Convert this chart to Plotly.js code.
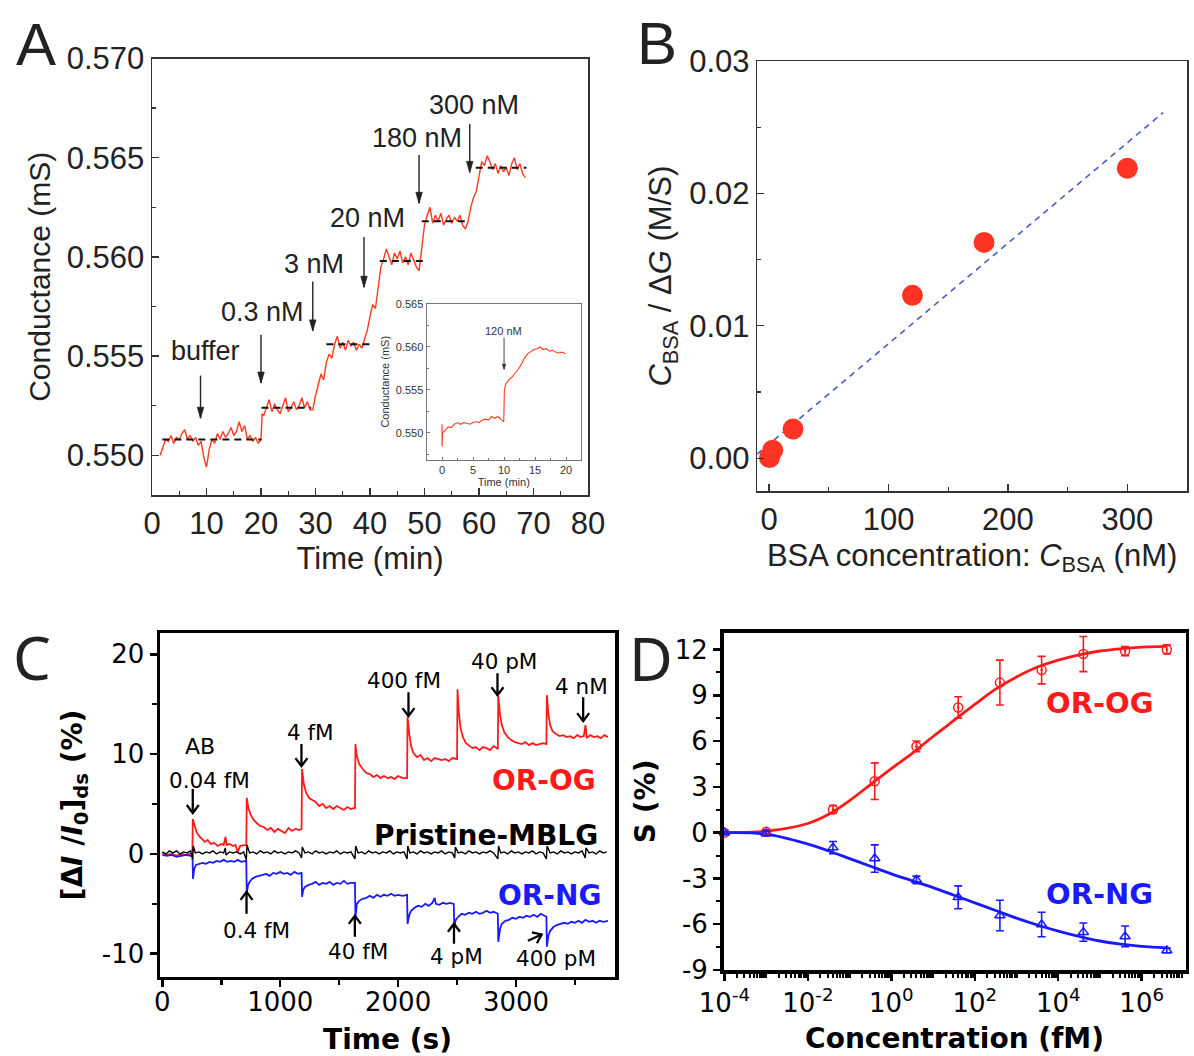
<!DOCTYPE html>
<html>
<head>
<meta charset="utf-8">
<script src="https://cdn.plot.ly/plotly-3.0.1.min.js"></script>
<style>
  html, body { margin: 0; padding: 0; background: #fff; }
  #fig { width: 1194px; height: 1056px; }
</style>
</head>
<body>
<div id="fig"></div>
<script>
// ---------- Panel A: conductance trace during stepwise BSA additions ----------
const timeA = [1.5,2,2.5,3,3.5,4,4.5,5,5.5,6,6.5,7,7.5,8,8.5,9,9.5,10,10.5,11,11.5,12,12.5,13,13.5,14,14.5,15,15.5,16,16.5,17,17.5,18,18.5,19,19.5,20,
  20.2,20.5,21,21.5,22,22.5,23,23.5,24,24.5,25,25.5,26,26.5,27,27.5,28,28.5,29,29.5,30,30.5,31,31.5,32,32.5,33,33.5,34,34.5,35,35.5,36,36.5,37,37.5,38,38.5,39,39.5,
  40,40.5,41,41.5,42,42.5,43,43.5,44,44.5,45,45.5,46,46.5,47,47.5,48,48.5,49,49.5,50,50.5,51,51.5,52,52.5,53,53.5,54,54.5,55,55.5,56,56.5,57,57.5,58,58.5,
  59,59.5,60,60.5,61,61.5,62,62.5,63,63.5,64,64.5,65,65.5,66,66.5,67,67.5,68,68.5];
const condA = [0.5500,0.5504,0.5508,0.5507,0.5510,0.5506,0.5509,0.5508,0.5511,0.5513,0.5508,0.5510,0.5507,0.5509,0.5505,0.5507,0.5499,0.5494,0.5503,0.5508,0.5506,0.5511,0.5508,0.5512,0.5509,0.5511,0.5514,0.5510,0.5512,0.5517,0.5512,0.5515,0.5508,0.5510,0.5507,0.5509,0.5506,0.5508,
  0.5521,0.5520,0.5524,0.5528,0.5522,0.5526,0.5523,0.5521,0.5525,0.5529,0.5522,0.5524,0.5527,0.5523,0.5525,0.5529,0.5524,0.5527,0.5523,0.5523,0.5530,0.5536,0.5541,0.5538,0.5547,0.5551,0.5549,0.5556,0.5560,0.5554,0.5557,0.5553,0.5558,0.5555,0.5557,0.5553,0.5556,0.5554,0.5558,0.5563,
  0.5570,0.5576,0.5574,0.5586,0.5595,0.5599,0.5604,0.5600,0.5596,0.5602,0.5599,0.5603,0.5597,0.5600,0.5596,0.5602,0.5598,0.5595,0.5593,0.5605,0.5616,0.5621,0.5625,0.5617,0.5621,0.5618,0.5622,0.5616,0.5619,0.5621,0.5617,0.5620,0.5618,0.5621,0.5616,0.5614,0.5618,0.5625,
  0.5630,0.5633,0.5641,0.5648,0.5646,0.5651,0.5648,0.5644,0.5647,0.5642,0.5646,0.5643,0.5645,0.5641,0.5647,0.5650,0.5644,0.5647,0.5642,0.5640];

// plateau levels (dashed guides)
const levelA = [0.5508, 0.5524, 0.5556, 0.5598, 0.5618, 0.5645];
const levelStartA = [1.9, 20.1, 32.0, 41.8, 49.5, 59.4];
const levelEndA = [20.1, 29.2, 40.1, 49.9, 58.0, 68.7];

// additions
const doseLabelsA = ['buffer', '0.3 nM', '3 nM', '20 nM', '180 nM', '300 nM'];
const doseTimeA = [8.9, 20.0, 29.5, 38.9, 49.0, 58.3];

// ---------- Inset: single 120 nM addition ----------
const timeInset = [0,0.02,0.08,0.5,1,1.5,2,2.5,3,3.5,4,4.5,5,5.5,6,6.5,7,7.5,8,8.5,9,9.5,9.95,10.05,10.3,10.8,11.3,11.8,12.3,12.8,13.3,13.8,14.3,14.8,15.3,15.8,16.3,16.8,17.3,17.8,18.3,18.8,19.3,19.9];
const condInset = [0.5510,0.5484,0.5500,0.5503,0.5507,0.5506,0.5510,0.5512,0.5510,0.5512,0.5511,0.5510,0.5512,0.5513,0.5512,0.5515,0.5516,0.5515,0.5519,0.5517,0.5519,0.5516,0.5513,0.5550,0.5557,0.5562,0.5565,0.5570,0.5574,0.5580,0.5587,0.5592,0.5595,0.5597,0.5598,0.5600,0.5597,0.5598,0.5595,0.5596,0.5594,0.5593,0.5594,0.5592];
const insetDoseLabel = '120 nM';

// ---------- Panel B: linearised adsorption ----------
const bsaConc = [0.3, 3, 20, 120, 180, 300];
const bsaRatio = [0.00005, 0.0006, 0.0022, 0.0123, 0.0163, 0.0219];
const bsaFitX = [-10, 330];
const bsaFitY = [0.0003, 0.0261];

// ---------- Panel C: real-time responses ----------
const timeOG = [0,40,80,120,160,200,240,255,258,270,290,310,335,360,385,410,440,470,500,520,536,545,570,600,620,640,660,690,712,716,730,750,775,800,830,860,890,920,950,980,1010,1040,1070,1100,1130,1160,1181,1185,1200,1220,1245,1270,1300,1330,1360,1390,1420,1450,1480,1510,1540,1570,1600,1634,1638,1650,1670,1700,1730,1760,1790,1820,1850,1880,1910,1940,1970,2000,2040,2076,2080,2095,2110,2130,2160,2190,2220,2250,2280,2310,2340,2370,2400,2430,2460,2500,2504,2515,2530,2550,2575,2600,2630,2660,2690,2720,2750,2780,2810,2846,2850,2865,2880,2900,2930,2960,2990,3020,3050,3080,3110,3140,3170,3200,3230,3258,3262,3275,3290,3310,3340,3370,3400,3430,3460,3490,3520,3550,3575,3590,3600,3630,3660,3690,3720,3750,3780];
const respOG = [0.1,-0.1,0.0,-0.2,0.0,-0.1,0.0,0.0,3.5,2.9,2.2,1.8,1.5,1.2,1.4,1.0,1.1,0.8,1.0,0.9,1.7,0.9,1.0,0.8,0.9,0.2,0.8,0.9,0.9,5.6,4.6,3.9,3.4,3.1,2.8,2.7,2.4,2.6,2.2,2.5,2.3,2.1,2.6,2.3,2.5,2.4,2.5,8.5,7.0,6.1,5.6,5.4,5.2,4.8,5.0,4.6,4.8,4.5,4.8,4.6,4.4,4.7,4.5,4.6,11.0,9.8,9.0,8.5,8.1,8.0,7.7,7.9,7.6,7.8,7.6,7.7,7.5,7.8,7.6,7.6,13.7,12.0,10.8,10.1,9.7,9.9,9.4,9.6,9.3,9.6,9.5,9.4,9.5,9.3,9.6,9.5,16.5,14.2,12.6,11.7,11.1,10.9,10.6,10.7,10.4,10.7,10.6,10.4,10.8,10.5,15.8,13.9,12.9,12.2,11.7,11.4,11.2,11.1,11.0,11.2,10.9,11.1,10.9,11.0,11.1,11.0,15.9,14.0,12.9,12.3,12.0,11.8,11.9,11.7,11.8,11.6,11.9,11.7,11.8,12.9,11.6,11.9,11.7,11.8,11.6,11.9,11.7];

const timeNG = [0,40,80,120,160,200,240,256,260,270,285,310,340,370,400,430,460,490,520,550,580,610,640,670,712,716,725,740,760,790,820,850,880,910,940,970,1000,1030,1060,1090,1120,1150,1181,1185,1195,1210,1240,1270,1300,1330,1360,1390,1420,1450,1480,1510,1540,1570,1600,1634,1638,1650,1670,1700,1730,1760,1790,1820,1850,1880,1910,1940,1970,2000,2040,2076,2080,2095,2110,2140,2170,2200,2230,2260,2290,2310,2320,2350,2380,2410,2440,2472,2476,2490,2510,2540,2570,2600,2630,2660,2690,2720,2750,2780,2810,2846,2850,2865,2880,2910,2940,2970,3000,3030,3060,3090,3120,3150,3180,3210,3240,3258,3262,3275,3290,3320,3350,3380,3410,3440,3470,3500,3530,3560,3590,3620,3650,3680,3710,3740,3780];
const respNG = [-0.1,-0.2,-0.1,-0.3,-0.2,-0.1,-0.2,-0.2,-2.5,-1.5,-1.1,-1.0,-0.9,-1.0,-0.8,-0.9,-0.7,-0.8,-0.6,-0.8,-0.7,-0.8,-0.6,-0.8,-0.7,-4.0,-3.2,-2.8,-2.5,-2.3,-2.2,-2.1,-2.0,-2.2,-1.9,-2.0,-1.8,-2.0,-1.9,-2.1,-1.8,-2.0,-1.9,-4.3,-3.6,-3.3,-3.1,-3.0,-2.8,-3.1,-2.9,-3.0,-2.8,-3.1,-2.9,-3.0,-2.7,-3.0,-2.9,-2.9,-6.4,-5.0,-4.7,-4.5,-4.4,-4.2,-4.4,-4.1,-4.3,-4.1,-4.2,-4.0,-4.2,-4.1,-4.2,-4.1,-7.0,-6.1,-5.7,-5.4,-5.2,-5.3,-5.0,-5.2,-4.9,-4.4,-5.0,-5.1,-4.9,-5.0,-4.9,-5.0,-7.2,-6.6,-6.3,-6.0,-6.1,-5.9,-6.0,-5.8,-6.0,-5.9,-5.7,-5.9,-5.8,-6.0,-8.8,-7.5,-7.0,-6.7,-6.6,-6.4,-6.5,-6.3,-6.4,-6.2,-6.3,-6.1,-6.3,-6.0,-6.2,-6.3,-9.3,-8.2,-7.7,-7.3,-7.1,-7.0,-6.9,-7.0,-6.8,-6.9,-6.7,-6.9,-6.6,-6.8,-6.7,-6.9,-6.7,-6.8,-6.7];

const timePristine = [0,30,60,90,120,150,180,210,240,256,262,280,310,340,370,400,430,460,490,520,534,540,570,600,630,660,690,712,718,740,770,800,830,860,890,920,950,980,1010,1040,1070,1100,1130,1160,1181,1187,1210,1240,1270,1300,1330,1360,1390,1420,1450,1480,1510,1540,1570,1600,1634,1640,1660,1690,1720,1750,1780,1810,1840,1870,1900,1930,1960,1990,2020,2050,2076,2082,2100,2130,2160,2190,2220,2250,2280,2310,2340,2370,2400,2430,2460,2480,2486,2510,2540,2570,2600,2630,2660,2690,2720,2750,2780,2810,2846,2852,2870,2900,2930,2960,2990,3020,3050,3080,3110,3140,3170,3200,3230,3258,3264,3290,3320,3350,3380,3410,3440,3470,3500,3530,3560,3588,3594,3620,3650,3680,3710,3740,3770];
const respPristine = [0.2,0.0,0.3,0.1,0.3,0.0,0.2,0.1,0.3,-0.5,0.8,0.1,0.2,0.0,0.2,0.1,0.3,0.0,0.2,0.1,0.6,-0.1,0.2,0.1,0.2,0.0,0.2,-0.6,0.9,0.1,0.2,0.0,0.3,0.1,0.2,0.0,0.3,0.1,0.2,0.0,0.2,0.1,0.3,0.1,-0.4,0.7,0.1,0.2,0.0,0.3,0.1,0.2,0.0,0.2,0.1,0.3,0.0,0.2,0.1,0.2,-0.5,0.8,0.1,0.2,0.0,0.3,0.1,0.2,0.0,0.2,0.1,0.3,0.0,0.2,0.1,0.2,-0.5,0.8,0.1,0.2,0.0,0.3,0.1,0.2,0.0,0.2,0.1,0.3,0.0,0.2,0.1,-0.4,0.7,0.1,0.2,0.0,0.3,0.1,0.2,0.0,0.2,0.1,0.3,0.1,-0.5,0.8,0.1,0.2,0.0,0.3,0.1,0.2,0.0,0.2,0.1,0.3,0.0,0.2,0.1,-0.5,0.8,0.1,0.2,0.0,0.3,0.1,0.2,0.0,0.2,0.1,0.3,-0.4,0.6,0.1,0.2,0.0,0.3,0.1,0.2];

const doseLabelsOG = ['0.04 fM', '4 fM', '400 fM', '40 pM', '4 nM'];
const doseLabelsNG = ['0.4 fM', '40 fM', '4 pM', '400 pM'];
const tickLabelsC = ['-10', '0', '10', '20'];
const tickValsC = [-10, 0, 10, 20];

// ---------- Panel D: dose-response ----------
const concD = [1e-4, 1e-3, 0.04, 0.4, 4, 40, 400, 4e3, 4e4, 4e5, 4e6];
const sOG = [0, 0.05, 1.52, 3.37, 5.65, 8.2, 9.83, 10.65, 11.7, 11.9, 12.0];
const sOGerr = [0.1, 0.15, 0.25, 1.2, 0.35, 0.7, 1.47, 0.9, 1.15, 0.3, 0.3];
const sNG = [0, -0.05, -0.98, -1.7, -3.1, -4.24, -5.43, -6.02, -6.52, -6.8, -7.72];
const sNGerr = [0.1, 0.15, 0.4, 0.9, 0.25, 0.75, 1.0, 0.8, 0.6, 0.68, 0.15];
const fitConcD = [1e-4, 1e-3, 1e-2, 0.0316, 0.1, 0.316, 1, 3.16, 10, 31.6, 100, 316, 1e3, 3162, 1e4, 31623, 1e5, 316228, 1e6, 4e6];
const fitOG = [0, 0.1, 0.6, 1.2, 2.1, 3.15, 4.2, 5.2, 6.3, 7.35, 8.4, 9.4, 10.2, 10.85, 11.3, 11.65, 11.9, 12.05, 12.15, 12.2];
const fitNG = [0, -0.1, -0.75, -1.2, -1.7, -2.2, -2.7, -3.15, -3.6, -4.1, -4.6, -5.1, -5.6, -6.05, -6.45, -6.8, -7.1, -7.3, -7.45, -7.55];
const tickValsDx = [1e-4, 1e-2, 1, 1e2, 1e4, 1e6];
const tickTextDx = ['10<sup>-4</sup>', '10<sup>-2</sup>', '10<sup>0</sup>', '10<sup>2</sup>', '10<sup>4</sup>', '10<sup>6</sup>'];
const tickValsDy = [-9, -6, -3, 0, 3, 6, 9, 12];
const tickTextDy = ['-9', '-6', '-3', '0', '3', '6', '9', '12'];

// ---------- styling ----------
const W = 1194, H = 1056;
const fontAB = 'Liberation Sans, Arial, sans-serif';
const fontCD = 'DejaVu Sans, Verdana, sans-serif';
const redA = '#ff3b1f';
const red = '#ff1a1a';
const blue = '#1a1aff';
const dx = (a, b) => [a / W, b / W];
const dy = (top, bottom) => [1 - bottom / H, 1 - top / H];

const traces = [];

// Panel A traces
traces.push({x: timeA, y: condA, xaxis: 'x', yaxis: 'y', mode: 'lines',
  line: {color: redA, width: 1.4}, hoverinfo: 'skip'});
levelA.forEach((lv, i) => traces.push({
  x: [levelStartA[i], levelEndA[i]], y: [lv, lv], xaxis: 'x', yaxis: 'y', mode: 'lines',
  line: {color: '#111', width: 2, dash: '7px,5px'}, hoverinfo: 'skip'}));

// Inset
traces.push({x: timeInset, y: condInset, xaxis: 'x2', yaxis: 'y2', mode: 'lines',
  line: {color: redA, width: 1.1}, hoverinfo: 'skip'});

// Panel B
traces.push({x: bsaFitX, y: bsaFitY, xaxis: 'x3', yaxis: 'y3', mode: 'lines',
  line: {color: '#4a5cc4', width: 1.6, dash: '6px,5px'}, hoverinfo: 'skip'});
traces.push({x: bsaConc, y: bsaRatio, xaxis: 'x3', yaxis: 'y3', mode: 'markers',
  marker: {color: '#ff3424', size: 21}, cliponaxis: false, hoverinfo: 'skip'});

// Panel C
traces.push({x: timeOG, y: respOG, xaxis: 'x4', yaxis: 'y4', mode: 'lines',
  line: {color: red, width: 1.8}, hoverinfo: 'skip'});
traces.push({x: timeNG, y: respNG, xaxis: 'x4', yaxis: 'y4', mode: 'lines',
  line: {color: blue, width: 1.8}, hoverinfo: 'skip'});
traces.push({x: timePristine, y: respPristine, xaxis: 'x4', yaxis: 'y4', mode: 'lines',
  line: {color: '#000', width: 1.4}, hoverinfo: 'skip'});

// Panel D
traces.push({x: fitConcD, y: fitOG, xaxis: 'x5', yaxis: 'y5', mode: 'lines',
  line: {color: red, width: 2.8, shape: 'spline'}, hoverinfo: 'skip'});
traces.push({x: fitConcD, y: fitNG, xaxis: 'x5', yaxis: 'y5', mode: 'lines',
  line: {color: blue, width: 2.8, shape: 'spline'}, hoverinfo: 'skip'});
traces.push({x: concD, y: sOG, xaxis: 'x5', yaxis: 'y5', mode: 'markers', cliponaxis: false,
  marker: {symbol: 'circle-open-dot', size: 9, color: red, line: {width: 1.5, color: red}},
  error_y: {type: 'data', array: sOGerr, color: red, thickness: 1.6, width: 4}, hoverinfo: 'skip'});
traces.push({x: concD, y: sNG, xaxis: 'x5', yaxis: 'y5', mode: 'markers', cliponaxis: false,
  marker: {symbol: 'triangle-up-open', size: 9, color: blue, line: {width: 1.5, color: blue}},
  error_y: {type: 'data', array: sNGerr, color: blue, thickness: 1.6, width: 4}, hoverinfo: 'skip'});

// minor tick positions on the log axis
const minorDx = [];
for (let e = -4; e <= 6; e++) for (let k = 1; k <= 9; k++) {
  const v = k * Math.pow(10, e);
  if (!(k === 1 && e % 2 === 0)) minorDx.push(v);
}

// ---------- axes ----------
function boxAxisAB(extra) {
  return Object.assign({
    showline: true, mirror: true, linecolor: '#333', linewidth: 1.5,
    ticks: 'inside', ticklen: 7, tickwidth: 1.3, tickcolor: '#333',
    showgrid: false, zeroline: false,
    tickfont: {family: fontAB, size: 31, color: '#222'}
  }, extra);
}
function boxAxisCD(extra) {
  return Object.assign({
    showline: true, mirror: true, linecolor: '#000', linewidth: 3.5,
    ticks: 'outside', ticklen: 7, tickwidth: 2.5, tickcolor: '#000',
    showgrid: false, zeroline: false,
    tickfont: {family: fontCD, size: 26, color: '#000'}
  }, extra);
}

const layout = {
  width: W, height: H, margin: {l: 0, r: 0, t: 0, b: 0},
  paper_bgcolor: '#fff', plot_bgcolor: '#fff', showlegend: false,
  xaxis: boxAxisAB({domain: dx(152, 588), anchor: 'y', range: [0, 80], dtick: 10,
    minor: {ticks: 'inside', dtick: 5, ticklen: 4, tickcolor: '#333'},
    title: {text: 'Time (min)', font: {family: fontAB, size: 31, color: '#222'}, standoff: 3}}),
  yaxis: boxAxisAB({domain: dy(58.5, 495), anchor: 'x', range: [0.548, 0.570], dtick: 0.005, tickformat: '.3f',
    minor: {ticks: 'inside', dtick: 0.0025, ticklen: 4, tickcolor: '#333'},
    title: {text: 'Conductance (mS)', font: {family: fontAB, size: 30, color: '#222'}, standoff: 7}}),
  xaxis2: {domain: dx(426.5, 581), anchor: 'y2', range: [-2.5, 22.4], dtick: 5,
    showline: true, mirror: true, linecolor: '#777', linewidth: 1, ticks: 'inside', ticklen: 3, tickcolor: '#777',
    showgrid: false, zeroline: false, tickfont: {family: fontAB, size: 11, color: '#333'},
    minor: {ticks: 'inside', dtick: 2.5, ticklen: 2, tickcolor: '#777'},
    title: {text: 'Time (min)', font: {family: fontAB, size: 11, color: '#333'}, standoff: 2}},
  yaxis2: {domain: dy(304, 459.5), anchor: 'x2', range: [0.5469, 0.565], dtick: 0.005, tickformat: '.3f',
    showline: true, mirror: true, linecolor: '#777', linewidth: 1, ticks: 'inside', ticklen: 3, tickcolor: '#777',
    showgrid: false, zeroline: false, tickfont: {family: fontAB, size: 11, color: '#333'},
    minor: {ticks: 'inside', dtick: 0.0025, ticklen: 2, tickcolor: '#777'},
    title: {text: 'Conductance (mS)', font: {family: fontAB, size: 11, color: '#333'}, standoff: 3}},
  xaxis3: boxAxisAB({domain: dx(757.2, 1187), anchor: 'y3', range: [-10, 350], dtick: 100,
    minor: {ticks: 'inside', dtick: 50, ticklen: 4, tickcolor: '#333'},
    title: {text: 'BSA concentration: <i>C</i><sub>BSA</sub> (nM)', font: {family: fontAB, size: 31, color: '#222'}, standoff: 8}}),
  yaxis3: boxAxisAB({domain: dy(61, 491.3), anchor: 'x3', range: [-0.0025, 0.03], dtick: 0.01, tickformat: '.2f',
    minor: {ticks: 'inside', dtick: 0.005, ticklen: 4, tickcolor: '#333'},
    title: {text: '<i>C</i><sub>BSA</sub> / Δ<i>G</i> (M/S)', font: {family: fontAB, size: 31, color: '#222'}, standoff: 8}}),
  xaxis4: boxAxisCD({domain: dx(160, 615), anchor: 'y4', range: [-20, 3840], dtick: 1000, ticklabelstandoff: -7,
    minor: {ticks: 'outside', dtick: 500, ticklen: 5, tickwidth: 2.5, tickcolor: '#000'},
    title: {text: '<b>Time (s)</b>', font: {family: fontCD, size: 28, color: '#000'}, standoff: 14}}),
  yaxis4: boxAxisCD({domain: dy(633.3, 976.7), anchor: 'x4', range: [-12.3, 22.1],
    tickmode: 'array', tickvals: tickValsC, ticktext: tickLabelsC,
    minor: {ticks: 'outside', dtick: 5, ticklen: 5, tickwidth: 2.5, tickcolor: '#000'},
    title: {text: '<b>[Δ<i>I</i> /<i>I</i><sub>0</sub>]<sub>ds</sub> (%)</b>', font: {family: fontCD, size: 28, color: '#000'}, standoff: 12}}),
  xaxis5: boxAxisCD({domain: dx(723.6, 1185.5), anchor: 'y5', type: 'log', range: [-4.02, 7.05],
    tickmode: 'array', tickvals: tickValsDx, ticktext: tickTextDx,
    minor: {ticks: 'outside', tickmode: 'array', tickvals: minorDx, ticklen: 4, tickwidth: 2, tickcolor: '#000'},
    title: {text: '<b>Concentration (fM)</b>', font: {family: fontCD, size: 28, color: '#000'}, standoff: 12}}),
  yaxis5: boxAxisCD({domain: dy(632.7, 970), anchor: 'x5', range: [-9, 13.1],
    tickmode: 'array', tickvals: tickValsDy, ticktext: tickTextDy,
    minor: {ticks: 'outside', dtick: 1.5, ticklen: 4, tickwidth: 2, tickcolor: '#000'},
    title: {text: '<b>S (%)</b>', font: {family: fontCD, size: 28, color: '#000'}, standoff: 12}}),
  annotations: [],
  shapes: []
};

const ann = layout.annotations;
const shapes = layout.shapes;

// pixels per data unit for each arrow-bearing axis pair (from domains and ranges above)
const pxScale = {
  'x': 436 / 80, 'y': 436.5 / 0.022,
  'x2': 154.5 / 24.9, 'y2': 155.5 / 0.0181,
  'x4': 455 / 3860, 'y4': 343.4 / 34.4
};

// arrow = straight shaft + head drawn in pixel units at the tip
function addArrow(xr, yr, x0, y0, x1, y1, opt) {
  shapes.push({type: 'line', xref: xr, yref: yr, x0, y0, x1, y1,
    line: {color: opt.color, width: opt.width}});
  const vx = (x1 - x0) * pxScale[xr], vy = (y1 - y0) * pxScale[yr];
  const n = Math.hypot(vx, vy) || 1;
  const ux = vx / n, uy = vy / n, px = -uy, py = ux;
  const bx = -opt.len * ux, by = -opt.len * uy;
  const p1 = [bx + opt.half * px, by + opt.half * py];
  const p2 = [bx - opt.half * px, by - opt.half * py];
  const path = `M${p1[0].toFixed(2)},${p1[1].toFixed(2)} L0,0 L${p2[0].toFixed(2)},${p2[1].toFixed(2)}` + (opt.open ? '' : ' Z');
  shapes.push({type: 'path', xref: xr, yref: yr, xsizemode: 'pixel', ysizemode: 'pixel',
    xanchor: x1, yanchor: y1, path,
    fillcolor: opt.open ? 'rgba(0,0,0,0)' : opt.color,
    line: {color: opt.color, width: opt.open ? opt.width : 0.8}});
}

// panel letters
[['A', 36, 45, fontAB], ['B', 657, 43, fontAB], ['C', 32, 657, 'Noto Sans, sans-serif'], ['D', 651, 658, 'Noto Sans, sans-serif']]
  .forEach(([t, px, py, f]) => ann.push({text: t, xref: 'paper', yref: 'paper', x: px / W, y: 1 - py / H,
    xanchor: 'center', yanchor: 'middle', showarrow: false, font: {family: f, size: 60, color: '#222'}}));

// Panel A arrows and labels
const arrowTailA = [0.55402, 0.55608, 0.55876, 0.5610, 0.56514, 0.5667];
const arrowTipA = [0.55187, 0.55364, 0.55627, 0.55847, 0.5627, 0.56426];
const labelPosA = [[9.76, 0.55524], [20.3, 0.5572], [29.8, 0.55963], [39.6, 0.56197], [48.7, 0.5660], [59.1, 0.56768]];
doseLabelsA.forEach((lab, i) => {
  addArrow('x', 'y', doseTimeA[i], arrowTailA[i], doseTimeA[i], arrowTipA[i],
    {color: '#222', width: 1.4, len: 11, half: 3.2, open: false});
  ann.push({xref: 'x', yref: 'y', x: labelPosA[i][0], y: labelPosA[i][1], text: lab, showarrow: false,
    xanchor: 'center', yanchor: 'middle', font: {family: fontAB, size: 27, color: '#222'}});
});
// inset arrow and label
addArrow('x2', 'y2', 10, 0.5611, 10, 0.5574, {color: '#333', width: 0.9, len: 5, half: 1.6, open: false});
ann.push({xref: 'x2', yref: 'y2', x: 9.9, y: 0.56187, text: insetDoseLabel, showarrow: false,
  xanchor: 'center', yanchor: 'middle', font: {family: fontAB, size: 11, color: '#333'}});

// Panel C arrows and labels
const arrowsOG = [[258, 6.5, 4.1], [1180, 11.0, 8.8], [2088, 16.2, 13.8], [2843, 18.1, 15.9], [3570, 15.7, 13.3]];
const labelPosOG = [[402, 7.4], [1257, 12.2], [2052, 17.4], [2900, 19.3], [3560, 16.8]];
const arrowsNG = [[714, -6.0, 714, -3.8], [1633, -8.3, 1633, -6.2], [2474, -9.0, 2474, -7.0], [3101, -8.7, 3218, -8.07]];
const labelPosNG = [[798, -7.7], [1660, -9.8], [2497, -10.3], [3336, -10.5]];
const chevron = {color: '#000', width: 2.3, len: 8, half: 6, open: true};
doseLabelsOG.forEach((lab, i) => {
  const [t, tail, tip] = arrowsOG[i];
  addArrow('x4', 'y4', t, tail, t, tip, chevron);
  ann.push({xref: 'x4', yref: 'y4', x: labelPosOG[i][0], y: labelPosOG[i][1], text: lab, showarrow: false,
    xanchor: 'center', yanchor: 'middle', font: {family: fontCD, size: 21.5, color: '#000'}});
});
doseLabelsNG.forEach((lab, i) => {
  const [t0, tail, t1, tip] = arrowsNG[i];
  addArrow('x4', 'y4', t0, tail, t1, tip, chevron);
  ann.push({xref: 'x4', yref: 'y4', x: labelPosNG[i][0], y: labelPosNG[i][1], text: lab, showarrow: false,
    xanchor: 'center', yanchor: 'middle', font: {family: fontCD, size: 21.5, color: '#000'}});
});
ann.push({xref: 'x4', yref: 'y4', x: 318, y: 10.8, text: 'AB', showarrow: false,
  xanchor: 'center', yanchor: 'middle', font: {family: fontCD, size: 22, color: '#000'}});
[['OR-OG', 3235, 7.4, red], ['Pristine-MBLG', 2749, 1.83, '#000'], ['OR-NG', 3285, -4.2, blue]]
  .forEach(([t, x, y, c]) => ann.push({xref: 'x4', yref: 'y4', x, y, text: '<b>' + t + '</b>', showarrow: false,
    xanchor: 'center', yanchor: 'middle', font: {family: fontCD, size: 28, color: c}}));

// Panel D labels (log axis takes log10 position)
[['OR-OG', 5.0, 8.5, red], ['OR-NG', 5.0, -4.0, blue]]
  .forEach(([t, x, y, c]) => ann.push({xref: 'x5', yref: 'y5', x, y, text: '<b>' + t + '</b>', showarrow: false,
    xanchor: 'center', yanchor: 'middle', font: {family: fontCD, size: 29, color: c}}));

Plotly.newPlot('fig', traces, layout, {staticPlot: true, displayModeBar: false});
</script>
</body>
</html>
